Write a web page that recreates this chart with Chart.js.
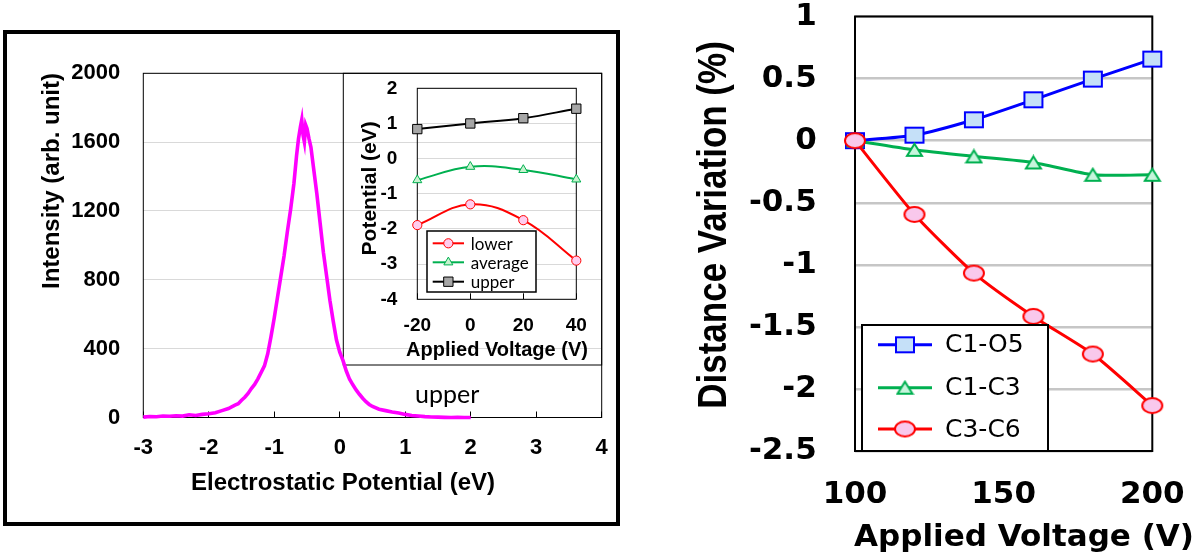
<!DOCTYPE html>
<html>
<head>
<meta charset="utf-8">
<script src="https://cdn.jsdelivr.net/npm/chart.js@4.4.1/dist/chart.umd.min.js"></script>
<style>
  body { margin: 0; background: #fff; }
  #wrap { position: relative; width: 1200px; height: 559px; overflow: hidden; background: #fff; }
  canvas { position: absolute; }
  #frame { position: absolute; left: 3px; top: 30px; width: 617px; height: 496px;
           border: 4px solid #000; box-sizing: border-box; z-index: 5; }
</style>
</head>
<body>
<div id="wrap">
  <div id="frame"></div>
  <canvas id="main" style="left:0;top:0" width="620" height="559"></canvas>
  <canvas id="inset" style="left:343px;top:73px" width="258" height="292"></canvas>
  <canvas id="right" style="left:620px;top:0" width="580" height="559"></canvas>
</div>
<script>
// ---- main spectrum (left panel) ----
const potential = [-3.0,-2.9,-2.8,-2.7,-2.6,-2.5,-2.4,-2.3,-2.2,-2.1,-2.0,-1.9,-1.8,-1.7,-1.6,
  -1.55,-1.5,-1.45,-1.4,-1.35,-1.3,-1.25,-1.2,-1.15,-1.1,-1.05,-1.0,-0.95,-0.9,-0.85,-0.8,-0.75,-0.7,
  -0.66,-0.63,-0.6,-0.58,-0.56,-0.54,-0.52,-0.5,-0.47,-0.44,
  -0.4,-0.35,-0.3,-0.25,-0.2,-0.15,-0.1,-0.05,0.0,0.05,0.1,0.15,0.2,0.25,0.3,0.35,0.4,0.45,0.5,
  0.6,0.7,0.8,0.9,1.0,1.1,1.2,1.3,1.4,1.5,1.6,1.7,1.8,1.9,2.0];
const intensity = [2,6,4,9,7,10,8,16,12,18,22,28,40,52,72,
  80,100,118,140,168,192,225,262,300,370,470,580,700,820,940,1080,1210,1360,
  1520,1620,1690,1730,1640,1600,1700,1680,1620,1570,
  1450,1300,1130,960,820,680,560,450,380,330,270,222,190,160,135,112,92,76,64,
  48,40,32,26,18,12,9,5,3,2,1,0,1,0,0];

// ---- inset ----
const insetVoltage = [-20, 0, 20, 40];
const lowerPot = [-1.89, -1.30, -1.75, -2.90];
const averagePot = [-0.61, -0.23, -0.32, -0.59];
const upperPot = [0.84, 1.00, 1.15, 1.42];

// ---- right panel ----
const appliedVoltage = [100, 120, 140, 160, 180, 200];
const c1o5 = [0, 0.044, 0.168, 0.329, 0.496, 0.657];
const c1c3 = [0, -0.074, -0.127, -0.176, -0.275, -0.275];
const c3c6 = [0, -0.594, -1.067, -1.416, -1.719, -2.134];

const ARIAL = "'Liberation Sans', Arial, sans-serif";
const WIDE = "'DejaVu Sans', sans-serif";
Chart.defaults.color = '#000';
Chart.defaults.font.family = ARIAL;

const xy = (xs, ys) => xs.map((x, i) => ({ x: x, y: ys[i] }));
const plain = v => String(+v.toFixed(2));

// fixed axis sizes, no extra label overhang padding
function fixW(w) {
  return s => { s.width = w; s.paddingTop = 0; s.paddingBottom = 0; s.paddingLeft = 0; s.paddingRight = 0; };
}
function fixH(h) {
  return s => { s.height = h; s.paddingTop = 0; s.paddingBottom = 0; s.paddingLeft = 0; s.paddingRight = 0; };
}

// text drawn on top of a chart
function textLayer(items) {
  return {
    id: 'texts',
    afterDraw(chart) {
      const ctx = chart.ctx;
      items.forEach(t => {
        ctx.save();
        ctx.font = t.font;
        ctx.fillStyle = '#000';
        ctx.textAlign = t.align || 'center';
        ctx.textBaseline = t.baseline || 'middle';
        ctx.translate(t.x, t.y);
        if (t.rot) ctx.rotate(t.rot * Math.PI / 180);
        if (t.sy) ctx.scale(1, t.sy);
        ctx.fillText(t.text, 0, 0);
        ctx.restore();
      });
    }
  };
}

// box round the plot area (+ extra rectangles)
function frameLayer(lw, extra) {
  return {
    id: 'frame',
    beforeDatasetsDraw(chart) {
      const { ctx, chartArea: a } = chart;
      ctx.save();
      ctx.strokeStyle = '#000';
      ctx.lineWidth = lw;
      ctx.strokeRect(a.left, a.top, a.right - a.left, a.bottom - a.top);
      (extra || []).forEach(r => {
        ctx.lineWidth = r.lw || lw;
        ctx.strokeRect(r.x, r.y, r.w, r.h);
      });
      ctx.restore();
    }
  };
}

// boxed legend at a fixed spot
function legendLayer(o) {
  return {
    id: 'boxLegend',
    afterDatasetsDraw(chart) {
      const ctx = chart.ctx;
      ctx.save();
      ctx.fillStyle = '#fff';
      ctx.fillRect(o.x, o.y, o.w, o.h);
      ctx.strokeStyle = '#000';
      ctx.lineWidth = o.border;
      ctx.strokeRect(o.x, o.y, o.w, o.h);
      chart.data.datasets.forEach((ds, i) => {
        const y = o.rows[i];
        ctx.strokeStyle = ds.borderColor;
        ctx.lineWidth = ds.borderWidth;
        ctx.beginPath();
        ctx.moveTo(o.x1, y);
        ctx.lineTo(o.x2, y);
        ctx.stroke();
        ctx.fillStyle = ds.pointBackgroundColor || '#fff';
        ctx.strokeStyle = ds.pointBorderColor || ds.borderColor;
        ctx.lineWidth = ds.pointBorderWidth || 1;
        Chart.helpers.drawPoint(ctx, { pointStyle: ds.pointStyle, radius: ds.pointRadius, borderWidth: ds.pointBorderWidth || 1, rotation: 0 }, (o.x1 + o.x2) / 2, y);
        ctx.fillStyle = '#000';
        ctx.font = o.font;
        ctx.textAlign = 'left';
        ctx.textBaseline = 'middle';
        ctx.fillText(ds.label, o.tx, y + 1);
      });
      ctx.restore();
    }
  };
}

// small marker pictures (the right panel is stretched sideways)
function marker(shape, w, h, fill, stroke, lw) {
  const c = document.createElement('canvas');
  c.width = w + lw * 2;
  c.height = h + lw * 2;
  const g = c.getContext('2d');
  g.fillStyle = fill;
  g.strokeStyle = stroke;
  g.lineWidth = lw;
  g.beginPath();
  if (shape === 'rect') g.rect(lw, lw, w, h);
  else if (shape === 'ellipse') g.ellipse(c.width / 2, c.height / 2, w / 2, h / 2, 0, 0, Math.PI * 2);
  else { g.moveTo(c.width / 2, lw); g.lineTo(lw + w, lw + h); g.lineTo(lw, lw + h); g.closePath(); }
  g.fill();
  g.stroke();
  return c;
}

const common = {
  responsive: false,
  animation: false,
  devicePixelRatio: 1,
  plugins: { legend: { display: false }, tooltip: { enabled: false } }
};

// ================= main spectrum =================
new Chart(document.getElementById('main'), {
  type: 'line',
  data: {
    datasets: [{
      data: xy(potential, intensity),
      borderColor: '#ff00ff',
      borderWidth: 3.6,
      pointRadius: 0,
      tension: 0,
      clip: false
    }]
  },
  options: Object.assign({}, common, {
    layout: { padding: { top: 73.3, right: 18.3, bottom: 0, left: 0 } },
    scales: {
      x: {
        type: 'linear', min: -3, max: 4,
        ticks: { stepSize: 1, padding: 23, autoSkip: false, maxRotation: 0, callback: plain,
                 font: { size: 22, weight: 'bold' } },
        grid: { drawOnChartArea: false, tickLength: -6, color: '#000' },
        border: { display: false },
        afterFit: fixH(141.5)
      },
      y: {
        min: 0, max: 2000,
        ticks: { stepSize: 400, padding: 23, callback: plain, font: { size: 22, weight: 'bold' } },
        grid: { color: '#d9d9d9', drawTicks: false },
        border: { display: false },
        afterFit: fixW(143.3)
      }
    }
  }),
  plugins: [
    frameLayer(1, [{ x: 343.3, y: 73.3, w: 258.4, h: 291.7 }]),
    textLayer([
      { text: 'Intensity (arb. unit)', x: 52, y: 181, rot: -90, font: 'bold 24px ' + ARIAL },
      { text: 'Electrostatic Potential (eV)', x: 343, y: 483, font: 'bold 24px ' + ARIAL },
      { text: 'upper', x: 415, y: 403, align: 'left', baseline: 'alphabetic', font: '25px Lato, sans-serif' }
    ])
  ]
});

// ================= inset =================
new Chart(document.getElementById('inset'), {
  type: 'line',
  data: {
    datasets: [
      { label: 'lower', data: xy(insetVoltage, lowerPot), borderColor: '#ff0000', borderWidth: 2,
        pointStyle: 'circle', pointRadius: 4.6, pointBackgroundColor: '#ffccee', pointBorderColor: '#ff0000',
        pointBorderWidth: 1, tension: 0.4, clip: false },
      { label: 'average', data: xy(insetVoltage, averagePot), borderColor: '#00b050', borderWidth: 2,
        pointStyle: 'triangle', pointRadius: 5.2, pointBackgroundColor: '#c8f2cf', pointBorderColor: '#00b050',
        pointBorderWidth: 1, tension: 0.4, clip: false },
      { label: 'upper', data: xy(insetVoltage, upperPot), borderColor: '#000000', borderWidth: 2,
        pointStyle: 'rect', pointRadius: 6.6, pointBackgroundColor: '#a6a6a6', pointBorderColor: '#000000',
        pointBorderWidth: 1, tension: 0.4, clip: false }
    ]
  },
  options: Object.assign({}, common, {
    layout: { padding: { top: 15.3, right: 24.7, bottom: 0, left: 0 } },
    scales: {
      x: {
        type: 'linear', min: -20, max: 40,
        ticks: { stepSize: 20, padding: 21, autoSkip: false, maxRotation: 0, callback: plain,
                 font: { size: 19, weight: 'bold' } },
        grid: { drawOnChartArea: false, tickLength: -6, color: '#000' },
        border: { display: false },
        afterFit: fixH(65.7)
      },
      y: {
        min: -4, max: 2,
        ticks: { stepSize: 1, padding: 20, callback: plain, font: { size: 19, weight: 'bold' } },
        grid: { color: '#d9d9d9', drawTicks: false },
        border: { display: false },
        afterFit: fixW(74.3)
      }
    }
  }),
  plugins: [
    frameLayer(1),
    legendLayer({ x: 84, y: 158, w: 109, h: 61, border: 1.5, rows: [170.3, 189.3, 208.7],
                  x1: 89.7, x2: 121, tx: 127.7, font: '17px Lato, sans-serif' }),
    textLayer([
      { text: 'Potential (eV)', x: 27, y: 115.3, rot: -90, font: 'bold 21px ' + ARIAL },
      { text: 'Applied Voltage (V)', x: 154, y: 277, font: 'bold 20px ' + ARIAL }
    ])
  ]
});

// ================= right panel =================
new Chart(document.getElementById('right'), {
  type: 'line',
  data: {
    datasets: [
      { label: 'C1-O5', data: xy(appliedVoltage, c1o5), borderColor: '#0000ff', borderWidth: 3,
        pointStyle: marker('rect', 18, 15, '#c5e0f8', '#0000ff', 2), pointRadius: 10,
        pointBackgroundColor: '#c5e0f8', pointBorderColor: '#0000ff', pointBorderWidth: 2,
        tension: 0.2, clip: false, order: 3 },
      { label: 'C1-C3', data: xy(appliedVoltage, c1c3), borderColor: '#00b050', borderWidth: 3,
        pointStyle: marker('triangle', 15, 12, '#c6f5dc', '#00b050', 2), pointRadius: 10,
        pointBackgroundColor: '#c6f5dc', pointBorderColor: '#00b050', pointBorderWidth: 2,
        tension: 0.2, clip: false, order: 2 },
      { label: 'C3-C6', data: xy(appliedVoltage, c3c6), borderColor: '#ff0000', borderWidth: 3,
        pointStyle: marker('ellipse', 20, 15, '#f9c8ec', '#ff0000', 2), pointRadius: 10,
        pointBackgroundColor: '#f9c8ec', pointBorderColor: '#ff0000', pointBorderWidth: 2,
        tension: 0.2, clip: false, order: 1 }
    ]
  },
  options: Object.assign({}, common, {
    layout: { padding: { top: 16.5, right: 47.7, bottom: 0, left: 0 } },
    scales: {
      x: {
        type: 'linear', min: 100, max: 200,
        ticks: { stepSize: 50, padding: 17, autoSkip: false, maxRotation: 0, callback: plain,
                 font: { family: WIDE, size: 31, weight: 'bold' } },
        grid: { display: false },
        border: { display: false },
        afterFit: fixH(108)
      },
      y: {
        min: -2.5, max: 1,
        ticks: { stepSize: 0.5, padding: 38.3, callback: plain,
                 font: { family: WIDE, size: 31, weight: 'bold' } },
        grid: { color: '#c6c6c6', lineWidth: 2.4, drawTicks: false },
        border: { display: false },
        afterFit: fixW(235)
      }
    }
  }),
  plugins: [
    frameLayer(2),
    legendLayer({ x: 242, y: 325, w: 186, h: 126, border: 2, rows: [344.8, 387.7, 429],
                  x1: 258, x2: 312, tx: 325, font: '25px ' + WIDE }),
    textLayer([
      { text: 'Distance Variation (%)', x: 95, y: 225, rot: -90, sy: 1.15, font: 'bold 35px ' + ARIAL },
      { text: 'Applied Voltage (V)', x: 404, y: 538, font: 'bold 31px ' + WIDE }
    ])
  ]
});
</script>
</body>
</html>
